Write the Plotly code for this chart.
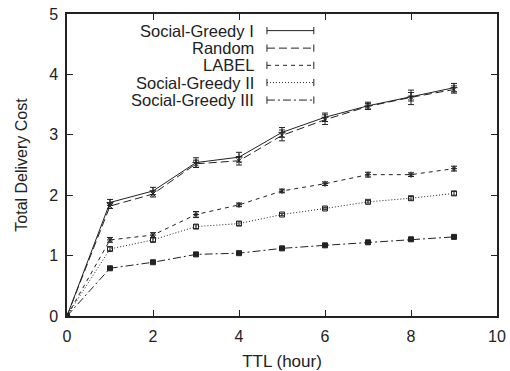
import plotly.graph_objects as go

ttl = [0, 1, 2, 3, 4, 5, 6, 7, 8, 9]
names = ["Social-Greedy I", "Random", "LABEL", "Social-Greedy II", "Social-Greedy III"]
sg1 = [0, 1.88, 2.07, 2.54, 2.63, 3.04, 3.29, 3.48, 3.63, 3.78]
sg1_err = [0, 0.05, 0.06, 0.08, 0.08, 0.08, 0.07, 0.06, 0.07, 0.07]
rnd = [0, 1.82, 2.02, 2.52, 2.57, 2.99, 3.25, 3.47, 3.62, 3.75]
rnd_err = [0, 0.04, 0.05, 0.06, 0.07, 0.09, 0.08, 0.05, 0.12, 0.06]
label = [0, 1.26, 1.34, 1.68, 1.84, 2.07, 2.19, 2.34, 2.34, 2.44]
label_err = [0, 0.04, 0.04, 0.05, 0.03, 0.03, 0.03, 0.04, 0.03, 0.04]
sg2 = [0, 1.11, 1.26, 1.48, 1.53, 1.68, 1.78, 1.89, 1.95, 2.03]
sg2_err = [0, 0.03, 0.03, 0.03, 0.03, 0.02, 0.02, 0.02, 0.03, 0.03]
sg3 = [0, 0.79, 0.89, 1.02, 1.04, 1.12, 1.17, 1.22, 1.27, 1.31]
sg3_err = [0, 0.02, 0.02, 0.02, 0.02, 0.02, 0.02, 0.02, 0.02, 0.02]

series = [sg1, rnd, label, sg2, sg3]
errs = [sg1_err, rnd_err, label_err, sg2_err, sg3_err]
dashes = ["solid", "8px,4px", "4px,4px", "1px,2px", "8px,3px,2px,3px"]
symbols = ["cross-thin-open", "x-thin-open", "asterisk-open", "square-open", "square"]
col = "#222222"

fig = go.Figure()
for nm, ys, er, d, s in zip(names, series, errs, dashes, symbols):
    fig.add_trace(go.Scatter(
        x=ttl, y=ys, name=nm, mode="lines+markers",
        line=dict(color=col, width=1, dash=d),
        marker=dict(symbol=s, size=5, color=col, line=dict(color=col, width=1)),
        error_y=dict(type="data", array=er, color=col, thickness=1, width=3),
        showlegend=False,
    ))

# custom legend (text right, sample on the right), in paper coordinates
row_y = [0.945, 0.887, 0.830, 0.773, 0.715]
x_text = 0.44
x0, x1 = 0.465, 0.574
for nm, yy, d, s in zip(names, row_y, dashes, symbols):
    fig.add_annotation(x=x_text, y=yy, xref="paper", yref="paper", text=nm,
                       showarrow=False, xanchor="right", yanchor="middle",
                       font=dict(size=16.5, color=col))
    fig.add_shape(type="line", xref="paper", yref="paper", x0=x0, x1=x1, y0=yy, y1=yy,
                  line=dict(color=col, width=1, dash=d))
    for xe in (x0, x1):
        fig.add_shape(type="line", xref="paper", yref="paper", x0=xe, x1=xe,
                      y0=yy - 0.012, y1=yy + 0.012, line=dict(color=col, width=1))

fig.update_layout(
    width=510, height=371,
    margin=dict(l=67, r=13, t=14, b=55),
    paper_bgcolor="white", plot_bgcolor="white",
    font=dict(family="Liberation Sans, Arial, sans-serif", size=16, color=col),
    xaxis=dict(range=[0, 10], tickvals=[0, 2, 4, 6, 8, 10], ticks="inside", ticklen=6,
               tickcolor=col, showline=True, linecolor=col, linewidth=1.5, mirror="ticks",
               showgrid=False, zeroline=False, automargin=False, ticklabelstandoff=5,
               title=dict(text="TTL (hour)", font=dict(size=17), standoff=15)),
    yaxis=dict(range=[0, 5], tickvals=[0, 1, 2, 3, 4, 5], ticks="inside", ticklen=6,
               tickcolor=col, showline=True, linecolor=col, linewidth=1.5, mirror="ticks",
               showgrid=False, zeroline=False, automargin=False, ticklabelstandoff=4,
               title=dict(text="Total Delivery Cost", font=dict(size=16), standoff=18)),
)

fig.write_html("out.html", config={"displayModeBar": False},
               post_script="document.body.style.margin='0';document.body.style.overflow='hidden';")
